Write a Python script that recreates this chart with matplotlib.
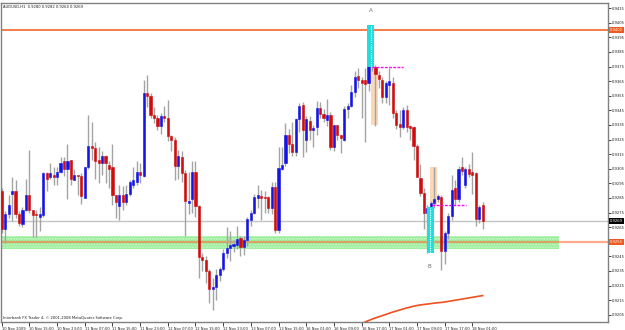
import matplotlib
matplotlib.use("Agg")
import matplotlib.pyplot as plt
import matplotlib.transforms as mtransforms
from matplotlib.patches import Rectangle
from matplotlib import font_manager
import numpy as np

# ---- data (AUDUSD H1) ----
opens = [0.9290,0.9264,0.9274,0.9288,0.9290,0.9274,0.9267,0.9277,0.9287,0.9277,
         0.9274,0.9272,0.9273,0.9302,0.9299,0.9301,0.92995,0.9303,0.9310,0.9305,
         0.9311,0.9297,0.9301,0.9300,0.9285,0.9306,0.93205,0.9319,0.9311,0.9309,
         0.9314,0.93075,0.9306,0.9287,0.92795,0.9287,0.9282,0.9288,0.9294,0.9296,
         0.93025,0.9300,0.93566,0.9355,0.9342,0.9340,0.93345,0.9341,0.9340,0.93276,
         0.93244,0.9307,0.93132,0.93023,0.92815,0.9284,0.93025,0.92797,0.92447,0.92425,
         0.9235,0.92224,0.92242,0.92322,0.9236,0.9247,0.9251,0.9252,0.92527,0.92573,
         0.92516,0.92562,0.9270,0.92749,0.92847,0.9286,0.92858,0.92858,0.92779,0.92927,
         0.9263,0.9305,0.93087,0.9328,0.9322,0.93167,0.93388,0.93486,0.93247,0.9338,
         0.93315,0.93338,0.93463,0.93422,0.93384,0.9342,0.93196,0.93347,0.9328,0.93247,
         0.93457,0.9348,0.93578,0.93685,0.93658,0.93658,0.9364,0.93783,0.9375,0.93692,
         0.93658,0.93543,0.93623,0.93635,0.93434,0.93356,0.93338,0.9345,0.93342,0.93333,
         0.93205,0.92984,0.92881,0.92744,0.92783,0.92813,0.92842,0.92858,0.92489,0.92607,
         0.92726,0.92916,0.9284,0.93065,0.9294,0.93046,0.93025,0.93018,0.92703,0.9280]
highs = [0.9292,0.9276,0.9287,0.9299,0.9297,0.9276,0.9279,0.9298,0.9318,0.9277,
         0.9277,0.9279,0.9303,0.9303,0.9309,0.9306,0.9306,0.9313,0.9313,0.9322,
         0.9311,0.9305,0.9301,0.9302,0.9306,0.9342,0.9337,0.9323,0.9320,0.9317,
         0.93144,0.9310,0.9322,0.9287,0.9294,0.9293,0.9294,0.9297,0.9306,0.9310,
         0.9309,0.9366,0.9369,0.9357,0.9347,0.9342,0.9343,0.9348,0.9352,0.9328,
         0.9327,0.9318,0.9317,0.9304,0.9303,0.9310,0.9310,0.9280,0.9247,0.9245,
         0.9236,0.9230,0.9236,0.9238,0.9250,0.9265,0.9262,0.9256,0.9266,0.9259,
         0.9259,0.9272,0.9277,0.9288,0.9294,0.92904,0.9290,0.9286,0.9296,0.9296,
         0.9320,0.9320,0.9336,0.9332,0.9337,0.9340,0.9350,0.9351,0.9341,0.9341,
         0.9335,0.93517,0.9351,0.9346,0.9353,0.93438,0.9335,0.9335,0.9328,0.9348,
         0.9350,0.9362,0.9372,0.9374,0.9368,0.9374,0.9380,0.9403,0.9376,0.9372,
         0.9368,0.9365,0.93737,0.9368,0.9345,0.9345,0.9347,0.93486,0.9335,0.9334,
         0.9322,0.9308,0.9292,0.9280,0.9283,0.9306,0.9288,0.9287,0.9262,0.9275,
         0.9301,0.9297,0.9307,0.9313,0.9306,0.9308,0.93167,0.9303,0.9280,0.9282]
lows = [0.9261,0.9254,0.9271,0.9269,0.9271,0.9266,0.9265,0.9276,0.9275,0.9258,
        0.9258,0.9262,0.9272,0.9290,0.9298,0.9294,0.9294,0.9302,0.9300,0.9284,
        0.9294,0.9297,0.9287,0.9281,0.9285,0.9305,0.9311,0.9298,0.9295,0.9301,
        0.9295,0.9292,0.9280,0.9271,0.9270,0.9277,0.9280,0.9286,0.9292,0.9294,
        0.9295,0.9299,0.9347,0.9340,0.9336,0.93315,0.9329,0.9337,0.9324,0.9317,
        0.9297,0.9298,0.9296,0.9259,0.9274,0.9275,0.9272,0.9230,0.9235,0.9227,
        0.9213,0.9208,0.9215,0.9228,0.9235,0.9244,0.9242,0.9248,0.9250,0.9245,
        0.9246,0.9252,0.9266,0.9274,0.9278,0.9270,0.9275,0.9275,0.9274,0.9261,
        0.9261,0.9304,0.9307,0.9316,0.93135,0.9314,0.9330,0.9313,0.93167,0.9325,
        0.9320,0.9328,0.9340,0.9337,0.9334,0.9318,0.9317,0.9325,0.9316,0.9324,
        0.9340,0.9347,0.9354,0.9360,0.9340,0.93235,0.9358,0.9372,0.9334,0.9360,
        0.9350,0.9350,0.93486,0.9340,0.9332,0.9327,0.9332,0.9330,0.9325,0.9311,
        0.9299,0.9286,0.9264,0.92473,0.9275,0.9278,0.9282,0.92356,0.9240,0.9257,
        0.9270,0.9280,0.9282,0.9301,0.9292,0.9299,0.9288,0.9266,0.9268,0.9264]
closes = [0.9264,0.9274,0.9280,0.9290,0.9274,0.9268,0.9277,0.9287,0.9277,0.9273,
          0.9273,0.9274,0.9302,0.9298,0.9302,0.92995,0.9303,0.9309,0.9305,0.9310,
          0.9298,0.9301,0.9300,0.9286,0.9306,0.93205,0.9319,0.9310,0.9309,0.9314,
          0.9309,0.9305,0.9287,0.9282,0.9287,0.9282,0.9288,0.9296,0.9297,0.93025,
          0.9301,0.93566,0.9355,0.9342,0.9340,0.93345,0.9341,0.9340,0.93276,0.93244,
          0.9307,0.93137,0.93023,0.9283,0.9283,0.93025,0.92797,0.92447,0.92425,0.9235,
          0.92224,0.92242,0.92322,0.9236,0.9247,0.9251,0.92527,0.92535,0.9257,0.92516,
          0.9256,0.92703,0.92749,0.92858,0.9287,0.9285,0.9285,0.92779,0.92927,0.9263,
          0.93053,0.93075,0.9328,0.9322,0.93167,0.93388,0.93479,0.93315,0.93388,0.93315,
          0.93326,0.93463,0.93422,0.9340,0.93418,0.93196,0.93347,0.9328,0.93258,0.93457,
          0.9348,0.93578,0.9368,0.93658,0.93635,0.9363,0.93775,0.93765,0.9370,0.93662,
          0.93543,0.93635,0.9365,0.93434,0.9335,0.93338,0.93452,0.93338,0.93326,0.93205,
          0.92995,0.92881,0.92744,0.92783,0.92813,0.92842,0.9286,0.92489,0.92607,0.92726,
          0.92904,0.9284,0.9305,0.93035,0.93046,0.93015,0.93007,0.92703,0.92785,0.9269]

ma_start = 104
ma_values = [0.91985,0.9200,0.9201,0.92019,0.92028,0.92036,0.92044,0.92052,0.9206,0.92068,
             0.92075,0.92082,0.92089,0.92096,0.92102,0.92108,0.92113,0.92117,0.9212,0.92123,
             0.92126,0.92129,0.92132,0.92134,0.92137,0.92141,0.92145,0.92149,0.92153,0.92157,
             0.92161,0.92165,0.92169,0.92173,0.92177,0.92181]

x_tick_bars = list(range(0, 137, 8))
x_tick_labels = ["10 Nov 2009","10 Nov 15:00","10 Nov 23:00","11 Nov 07:00","11 Nov 15:00",
                 "11 Nov 23:00","12 Nov 07:00","12 Nov 15:00","12 Nov 23:00","13 Nov 07:00",
                 "13 Nov 15:00","16 Nov 01:00","16 Nov 09:00","16 Nov 17:00","17 Nov 01:00",
                 "17 Nov 09:00","17 Nov 17:00","18 Nov 01:00"]
y_ticks = [0.9415 - 0.001 * k for k in range(22)]

resistance = 0.9400
support = 0.9255
bid = 0.9269
zone_low, zone_high = 0.92500, 0.92589

title_text = "AUDUSD,H1  0.9280 0.9282 0.9264 0.9269"
copyright_text = "Interbank FX Trader 4, \u00a9 2001-2008 MetaQuotes Software Corp."

# pick the narrowest available sans font
entries = font_manager.fontManager.ttflist
has_narrow = any(f.name == "Liberation Sans Narrow" for f in entries)
has_cond = any(f.name == "DejaVu Sans" and str(f.stretch) in ("condensed", "semi-condensed")
               for f in entries)
STRETCH = "normal"
if has_narrow:
    FAM = ["Liberation Sans Narrow", "DejaVu Sans"]
    FS = 3.5
elif has_cond:
    FAM = ["DejaVu Sans"]
    STRETCH = "condensed"
    FS = 3.0
else:
    FAM = ["DejaVu Sans"]
    FS = 2.7
plt.rcParams["font.family"] = FAM
plt.rcParams["font.stretch"] = STRETCH

# ---- figure ----
fig = plt.figure(figsize=(6.25, 3.30), dpi=100)
ax = fig.add_axes([1.5/625, 1 - 322/330, (608-1.5)/625, (322-3)/330])
ax.set_facecolor("white")
ax.set_xlim(-0.06, 175.2)
ax.set_ylim(0.9200, 0.94185)

n = len(opens)
xs = np.arange(n)
o = np.array(opens); h = np.array(highs); l = np.array(lows); c = np.array(closes)
up = c >= o

# background objects
ax.add_patch(Rectangle((-5, zone_low), 161.1 + 5, zone_high - zone_low,
                       facecolor="#9BEE9B", edgecolor="#C9F7C9", hatch="......",
                       linewidth=0, zorder=0.5))
ax.axhline(bid, color="#C4C4C4", lw=1, zorder=0.8)
ax.axhline(resistance, color="#F2652A", lw=1.2, zorder=1.5)
ax.axhline(support, color="#FF5A1E", lw=1.6, alpha=0.5, zorder=1.5)

# peach boxes
ax.add_patch(Rectangle((106.7, 0.93349), 2.0, 0.0040, facecolor="#FBD9B8",
                       edgecolor="none", zorder=1))
ax.add_patch(Rectangle((123.8, 0.92801), 1.9, 0.00263, facecolor="#FBD9B8",
                       edgecolor="none", zorder=1))

# candles
ax.vlines(xs, l, h, color="#A4A4A4", lw=1, zorder=2)
bh = np.where(np.abs(c - o) < 0.00003, 0.00003, np.abs(c - o))
bottoms = np.minimum(o, c)
cols = np.where(up, "#1414E6", "#D20C0C")
ax.bar(xs, bh, bottom=bottoms, width=0.62, color=cols, edgecolor=cols,
       linewidth=0.4, zorder=3)

# cyan boxes
ax.add_patch(Rectangle((105.5, 0.93749), 2.2, 0.00285, facecolor="#22DDDD",
                       edgecolor="none", zorder=4))
ax.vlines([106.6], 0.93749, 0.94034, color="white", lw=0.8,
          linestyles=(0, (1, 1)), zorder=4.5)
ax.add_patch(Rectangle((122.8, 0.92470), 2.0, 0.00320, facecolor="#22DDDD",
                       edgecolor="none", zorder=4))
ax.vlines([123.8], 0.92473, 0.92780, color="white", lw=0.8,
          linestyles=(0, (1, 1)), zorder=4.5)

# magenta lines
ax.hlines(0.93749, 106.9, 115.9, color="#FF00FF", lw=1, linestyles=(0, (2, 1)), zorder=5)
ax.hlines(0.92801, 124.3, 134.3, color="#FF00FF", lw=1, linestyles=(0, (2, 1)), zorder=5)

# moving average
ax.plot(np.arange(ma_start, ma_start + len(ma_values)), ma_values,
        color="#F0501E", lw=1.2, zorder=3.5)

# labels A / B
ax.text(106.8, 0.94132, "A", fontsize=FS + 1.5, color="#707070", ha="center", va="center")
ax.text(123.6, 0.92379, "B", fontsize=FS + 1.5, color="#707070", ha="center", va="center")

# texts
ax.text(0.003, 0.994, title_text, transform=ax.transAxes, fontsize=FS,
        color="#202020", ha="left", va="top")
ax.text(0.003, 0.006, copyright_text, transform=ax.transAxes, fontsize=FS,
        color="#202020", ha="left", va="bottom")

# axes styling
for s in ax.spines.values():
    s.set_color("#808080")
    s.set_linewidth(1)
ax.yaxis.tick_right()
ax.set_yticks(y_ticks)
# the 0.9255 label is hidden under the support price tag in the original
ax.set_yticklabels(["" if abs(v - support) < 1e-6 else "%.4f" % v for v in y_ticks])
ax.tick_params(axis="y", direction="out", length=2.5, width=0.6, pad=0.5,
               labelsize=FS, colors="#202020")
ax.set_xticks(x_tick_bars)
ax.set_xticklabels(x_tick_labels, ha="left")
ax.tick_params(axis="x", direction="out", length=3, width=0.6, pad=0.6,
               labelsize=FS, colors="#202020")

# price tags
trans = mtransforms.blended_transform_factory(ax.transAxes, ax.transData)
for price, col in [(resistance, "#F0581E"), (bid, "#000000"), (support, "#F0581E")]:
    ax.text(1.0035, price, "%.4f" % price, transform=trans, fontsize=FS, color="white",
            ha="left", va="center", clip_on=False, zorder=10,
            bbox=dict(facecolor=col, edgecolor="none", pad=0.6))

fig.savefig("out.png", dpi=100, facecolor="white")
